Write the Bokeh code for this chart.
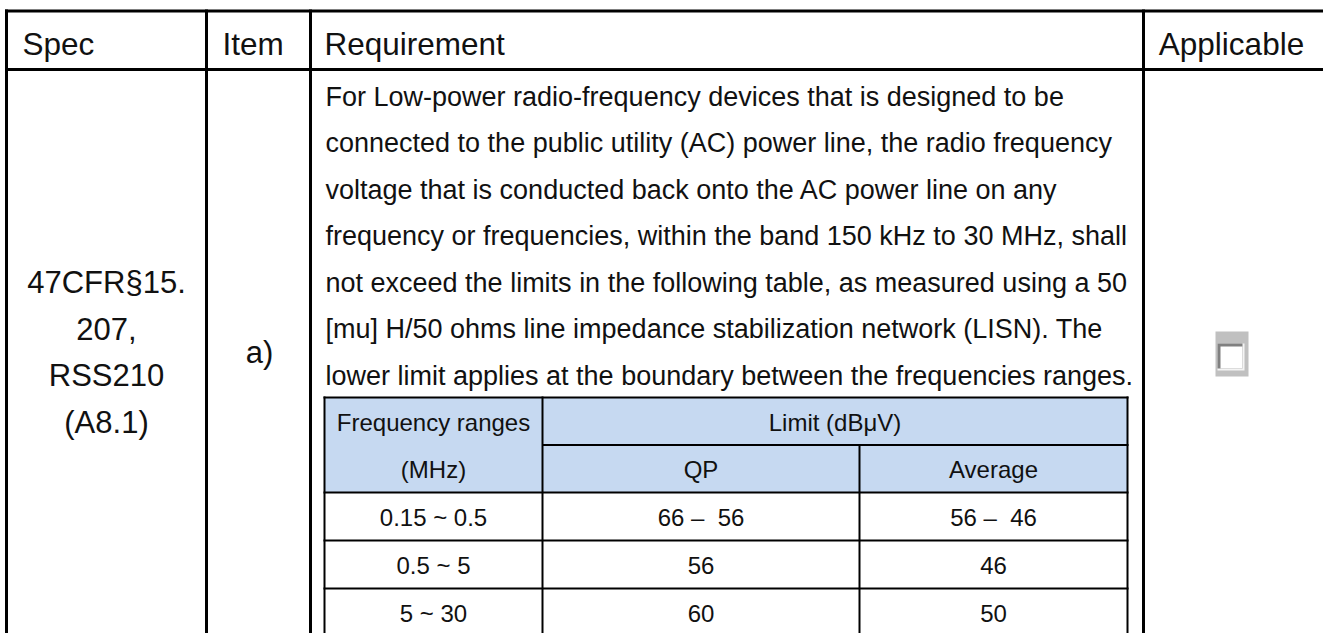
from bokeh.plotting import figure
from bokeh.models import Range1d, ColumnDataSource
from bokeh.core.properties import value
from bokeh.embed import file_html
from bokeh.resources import INLINE

# ---------------- data (table contents) ----------------
header_labels = ["Spec", "Item", "Requirement", "Applicable"]
spec_lines = ["47CFR§15.", "207,", "RSS210", "(A8.1)"]
item_labels = ["a)"]
requirement_lines = [
    "For Low-power radio-frequency devices that is designed to be",
    "connected to the public utility (AC) power line, the radio frequency",
    "voltage that is conducted back onto the AC power line on any",
    "frequency or frequencies, within the band 150 kHz to 30 MHz, shall",
    "not exceed the limits in the following table, as measured using a 50",
    "[mu] H/50 ohms line impedance stabilization network (LISN). The",
    "lower limit applies at the boundary between the frequencies ranges.",
]
freq_header = ["Frequency ranges", "(MHz)"]
limit_header = ["Limit (dBμV)"]
detector_labels = ["QP", "Average"]
freq_ranges = ["0.15 ~ 0.5", "0.5 ~ 5", "5 ~ 30"]
qp_limits = ["66 –\u00a0 56", "56", "60"]
avg_limits = ["56 –\u00a0 46", "46", "50"]

# ---------------- layout (screen pixel coordinates) ----------------
W, H = 1323, 633
col_x = [6, 206, 310, 1143, 1326]     # outer column edges
y_top, y_head = 10.5, 69
y_bottom = 650
inner_x = [324, 542, 859, 1127]
inner_y = [397, 444.5, 492, 540, 588, 636]
inner_mid = inner_y[1]

FONT = value("Liberation Sans")

p = figure(width=W, height=H, output_backend="svg", toolbar_location=None,
           x_range=Range1d(0, W), y_range=Range1d(H, 0),
           min_border=0, outline_line_color=None)
p.xaxis.visible = False
p.yaxis.visible = False
p.grid.visible = False
p.background_fill_color = "white"
p.border_fill_color = "white"

# inner table header fill
p.quad(left=[inner_x[0]], right=[inner_x[-1]], top=[inner_y[0]], bottom=[inner_y[2]],
       fill_color="#c6d9f1", line_color=None)

# outer table lines
ox0, oy0, ox1, oy1 = [], [], [], []
for yy in (y_top, y_head):
    ox0.append(col_x[0] - 1.5); ox1.append(col_x[-1]); oy0.append(yy); oy1.append(yy)
for xx in col_x:
    ox0.append(xx); ox1.append(xx); oy0.append(y_top - 1.5); oy1.append(y_bottom)
p.segment(x0=ox0, y0=oy0, x1=ox1, y1=oy1, line_color="black", line_width=3)

# inner table lines
ix0, iy0, ix1, iy1 = [], [], [], []
for k, yy in enumerate(inner_y):
    ix0.append(inner_x[1] if k == 1 else inner_x[0] - 1); ix1.append(inner_x[-1] + 1)
    iy0.append(yy); iy1.append(yy)
for k, xx in enumerate(inner_x):
    ix0.append(xx); ix1.append(xx)
    iy0.append(inner_mid if k == 2 else inner_y[0] - 1); iy1.append(inner_y[-1])
p.segment(x0=ix0, y0=iy0, x1=ix1, y1=iy1, line_color="black", line_width=2)

# checkbox (sunken 3D style)
p.quad(left=[1215], right=[1248], top=[331], bottom=[376], fill_color="#c0c0c0", line_color=None)
p.quad(left=[1217], right=[1244], top=[343], bottom=[370], fill_color="#f4f4f4", line_color=None)
p.quad(left=[1217], right=[1242], top=[343], bottom=[368], fill_color="#808080", line_color=None)
p.quad(left=[1220], right=[1242], top=[346], bottom=[368], fill_color="white", line_color=None)

def txt(xs, ys, labels, size, align="left", color="#111111"):
    src = ColumnDataSource(dict(x=xs, y=ys, t=labels))
    p.text(x="x", y="y", text="t", source=src, text_font=FONT,
           text_font_size=value(size), text_align=align,
           text_baseline="middle", text_color=color)

# header row
txt([col_x[0] + 16, col_x[1] + 16, col_x[2] + 14], [43] * 3, header_labels[:3], "31.5px")
txt([1231], [43], header_labels[3:], "31.5px", "center")

# requirement text lines
req_step = 46.5
req_y = [96 + req_step * k for k in range(len(requirement_lines))]
txt([325] * len(requirement_lines), req_y, requirement_lines, "27px")

# spec lines (share the line grid with the requirement text)
spec_y = [req_y[4] + req_step * k for k in range(len(spec_lines))]
txt([(col_x[0] + col_x[1]) / 2] * len(spec_lines), spec_y, spec_lines, "31px", "center")

# item
txt([(col_x[1] + col_x[2]) / 2 + 1], [(spec_y[0] + spec_y[-1]) / 2], item_labels, "31px", "center")

# inner table texts
c0 = (inner_x[0] + inner_x[1]) / 2
c1 = (inner_x[1] + inner_x[2]) / 2
c2 = (inner_x[2] + inner_x[3]) / 2
r_mid = [(inner_y[k] + inner_y[k + 1]) / 2 + 1 for k in range(5)]
fs = "24px"
txt([c0, c0], [r_mid[0], r_mid[1]], freq_header, fs, "center")
txt([(inner_x[1] + inner_x[3]) / 2], [r_mid[0]], limit_header, fs, "center")
txt([c1, c2], [r_mid[1], r_mid[1]], detector_labels, fs, "center")
txt([c0] * 3, r_mid[2:], freq_ranges, fs, "center")
txt([c1] * 3, r_mid[2:], qp_limits, fs, "center")
txt([c2] * 3, r_mid[2:], avg_limits, fs, "center")

open("out.html", "w").write(file_html(p, INLINE))
